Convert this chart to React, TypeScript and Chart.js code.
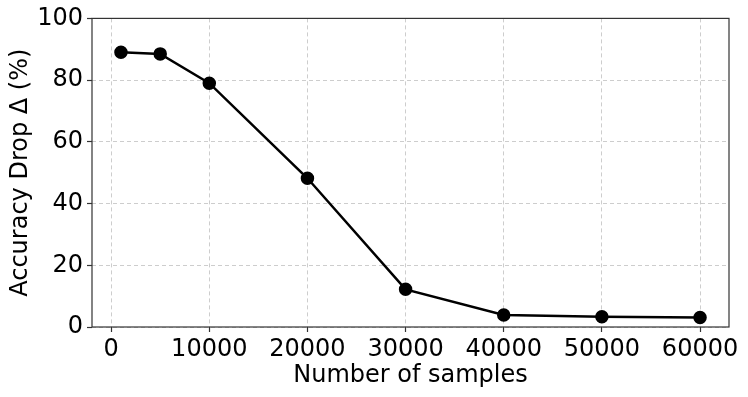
import React, { useEffect, useRef } from "react";
import { Chart, registerables } from "chart.js";
Chart.register(...registerables);

const samples = [1000, 5000, 10000, 20000, 30000, 40000, 50000, 60000];
const accuracyDrop = [89.0, 88.5, 79.0, 48.2, 12.2, 3.9, 3.3, 3.1];
const xTicks = [0, 10000, 20000, 30000, 40000, 50000, 60000];
const yTicks = [0, 20, 40, 60, 80, 100];

const FONT = "'DejaVu Sans', sans-serif";

const framePlugin = {
  id: "frame",
  beforeDatasetsDraw(chart: any) {
    const { ctx, chartArea } = chart;
    ctx.save();
    ctx.setLineDash([]);
    ctx.strokeStyle = "#333";
    ctx.lineWidth = 1.2;
    ctx.strokeRect(chartArea.left, chartArea.top, chartArea.right - chartArea.left, chartArea.bottom - chartArea.top);
    ctx.restore();
  },
};

const gridOpts: any = {
  color: "rgba(200,200,200,0.9)",
  lineWidth: 1,
  drawTicks: true,
  tickLength: 5,
  tickColor: "#333",
  tickWidth: 1.2,
  tickBorderDash: [],
  tickBorderDashOffset: 0,
};

export default function App() {
  const ref = useRef<HTMLCanvasElement>(null);
  useEffect(() => {
    document.body.style.margin = "0";
    const chart = new Chart(ref.current!, {
      type: "line",
      data: {
        datasets: [
          {
            data: samples.map((x, i) => ({ x, y: accuracyDrop[i] })),
            borderColor: "#000",
            backgroundColor: "#000",
            borderWidth: 2.5,
            pointRadius: 5.5,
            pointBackgroundColor: "#000",
            pointBorderColor: "#000",
            tension: 0,
          },
        ],
      },
      options: {
        animation: false,
        responsive: false,
        layout: { padding: { top: 18, right: 19, left: 0, bottom: 7 } },
        plugins: { legend: { display: false }, tooltip: { enabled: false } },
        scales: {
          x: {
            type: "linear",
            min: -1950,
            max: 62950,
            afterFit(scale: any) {
              scale.height = 63;
            },
            afterBuildTicks(scale: any) {
              scale.ticks = xTicks.map((v) => ({ value: v }));
            },
            ticks: {
              color: "#000",
              font: { family: FONT, size: 24 },
              padding: 3,
              maxRotation: 0,
              autoSkip: false,
              callback: (v: any) => String(v),
            },
            grid: gridOpts,
            border: { display: false, dash: [4, 3] },
            title: {
              display: true,
              text: "Number of samples",
              color: "#000",
              font: { family: FONT, size: 24 },
              padding: { top: 0, bottom: 0 },
            },
          },
          y: {
            min: 0,
            max: 100,
            afterFit(scale: any) {
              scale.width = 92;
            },
            afterBuildTicks(scale: any) {
              scale.ticks = yTicks.map((v) => ({ value: v }));
            },
            ticks: {
              color: "#000",
              font: { family: FONT, size: 24 },
              padding: 4,
            },
            grid: gridOpts,
            border: { display: false, dash: [4, 3] },
            title: {
              display: true,
              text: "Accuracy Drop Δ (%)",
              color: "#000",
              font: { family: FONT, size: 24 },
              padding: { top: 6, bottom: 0 },
            },
          },
        },
      },
      plugins: [framePlugin],
    });
    return () => chart.destroy();
  }, []);
  return (
    <div style={{ position: "absolute", left: 0, top: 0, width: 748, height: 397, background: "#fff" }}>
      <canvas ref={ref} width={748} height={397} style={{ display: "block" }} />
    </div>
  );
}
